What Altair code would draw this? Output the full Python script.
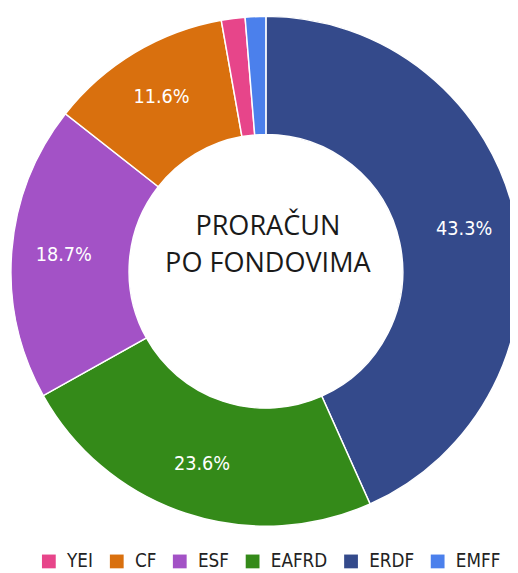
import altair as alt
import pandas as pd

funds = ["ERDF", "EAFRD", "ESF", "CF", "YEI", "EMFF"]
shares = [43.3, 23.6, 18.7, 11.6, 1.5, 1.3]
labels = ["43.3%", "23.6%", "18.7%", "11.6%", "", ""]
legend_order = ["YEI", "CF", "ESF", "EAFRD", "ERDF", "EMFF"]
legend_colors = ["#e7458a", "#d9700e", "#a352c6", "#348a19", "#344a8b", "#4b80ec"]
center_lines = ["PRORAČUN", "PO FONDOVIMA"]

df = pd.DataFrame({
    "fund": funds,
    "share": shares,
    "label": labels,
    "ord": list(range(len(funds))),
})

CX, CY = 262, 263
LABEL_FONT = "DejaVu Sans Condensed, DejaVu Sans"

base = alt.Chart(df).encode(
    theta=alt.Theta("share:Q", stack=True),
    order=alt.Order("ord:Q"),
)

arcs = base.mark_arc(
    outerRadius=259, innerRadius=139, stroke="white", strokeWidth=1.5
).encode(
    x=alt.value(CX),
    y=alt.value(CY),
    color=alt.Color(
        "fund:N",
        scale=alt.Scale(domain=legend_order, range=legend_colors),
        legend=alt.Legend(
            title=None,
            orient="none",
            direction="horizontal",
            legendX=32,
            legendY=548,
            symbolType="square",
            symbolSize=196,
            symbolStrokeWidth=0,
            labelFont=LABEL_FONT,
            labelFontSize=19,
            labelColor="#222222",
            labelOffset=9,
            columnPadding=14,
        ),
    ),
)

texts = base.mark_text(
    radius=206, font=LABEL_FONT, fontSize=20, color="white"
).encode(
    x=alt.value(CX),
    y=alt.value(CY),
    text="label:N",
)

center = alt.Chart(pd.DataFrame({"t": [0]})).mark_text(
    text=center_lines,
    font="Open Sans",
    fontSize=27.5,
    lineHeight=38,
    color="#1a1a1a",
    align="center",
    baseline="middle",
).encode(x=alt.value(CX + 2), y=alt.value(218))

chart = alt.layer(arcs, texts, center).properties(
    width=510,
    height=565,
    autosize=alt.AutoSizeParams(type="none"),
    padding=0,
    background="white",
).configure_view(stroke=None)

chart.save("out.html", embed_options={"renderer": "svg", "actions": False})
